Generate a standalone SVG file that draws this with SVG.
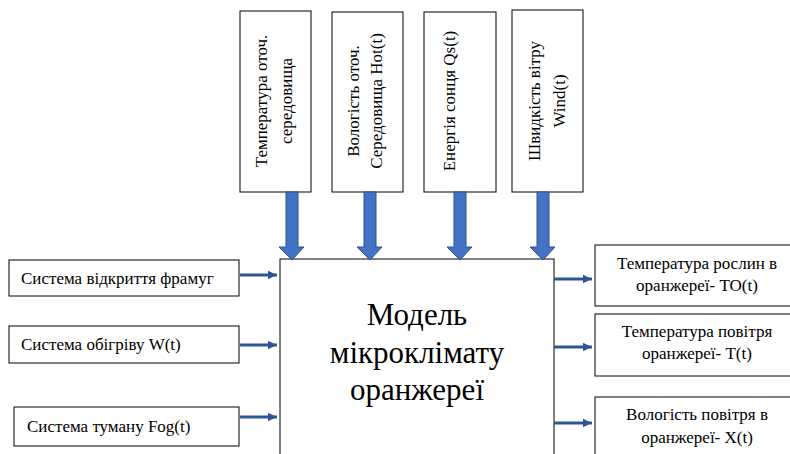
<svg xmlns="http://www.w3.org/2000/svg" width="790" height="454" viewBox="0 0 790 454">
<defs>
<style>
.box{fill:#fff;stroke:#000;stroke-width:1}
.thin{stroke:#2F5597;stroke-width:3;fill:none;marker-end:url(#ah)}
.big{fill:#4472C4;stroke:#2F528F;stroke-width:1}
</style>
<marker id="ah" markerWidth="4" markerHeight="4" refX="3" refY="2" orient="auto" markerUnits="strokeWidth">
<path d="M0,0.6 L3,2 L0,3.4 Z" fill="#2F5597"/>
</marker>
</defs>
<rect width="790" height="454" fill="#fff"/>
<g font-family="Liberation Serif, DejaVu Serif, serif" fill="#000">
<g id="top1" font-size="17" text-anchor="middle"><rect class="box" x="240" y="11" width="71" height="181"/>
<text transform="translate(267,101) rotate(-90)">Температура оточ.</text>
<text transform="translate(292,101) rotate(-90)">середовища</text></g>
<g id="top2" font-size="17" text-anchor="middle"><rect class="box" x="332" y="12" width="71" height="180"/>
<text transform="translate(359,101) rotate(-90)">Вологість оточ.</text>
<text transform="translate(382,101) rotate(-90)">Середовища Hot(t)</text></g>
<g id="top3" font-size="17" text-anchor="middle"><rect class="box" x="424" y="12" width="72" height="180"/>
<text transform="translate(455,101) rotate(-90)">Енергія сонця Qs(t)</text></g>
<g id="top4" font-size="17" text-anchor="middle"><rect class="box" x="512" y="10" width="71" height="182"/>
<text transform="translate(540,101) rotate(-90)">Швидкість вітру</text>
<text transform="translate(565,101) rotate(-90)">Wind(t)</text></g>
<g id="model" font-size="31" text-anchor="middle"><rect class="box" x="280" y="259" width="274" height="210"/>
<text x="417" y="325">Модель</text>
<text x="417" y="363">мікроклімату</text>
<text x="417" y="400">оранжереї</text></g>
<g id="in1" font-size="17"><rect class="box" x="9" y="260" width="230" height="36"/>
<text x="21" y="284">Система відкриття фрамуг</text></g>
<g id="in2" font-size="17"><rect class="box" x="9" y="326" width="230" height="37"/>
<text x="21" y="350">Система обігріву W(t)</text></g>
<g id="in3" font-size="17"><rect class="box" x="14" y="407" width="225" height="39"/>
<text x="27" y="432">Система туману Fog(t)</text></g>
<g id="out1" font-size="17" text-anchor="middle"><rect class="box" x="595" y="245" width="205" height="61"/>
<text x="697" y="269">Температура рослин в</text>
<text x="697" y="291">оранжереї- TO(t)</text></g>
<g id="out2" font-size="17" text-anchor="middle"><rect class="box" x="595" y="314" width="205" height="62"/>
<text x="697" y="337">Температура повітря</text>
<text x="697" y="359">оранжереї- T(t)</text></g>
<g id="out3" font-size="17" text-anchor="middle"><rect class="box" x="595" y="397" width="205" height="70"/>
<text x="697" y="420">Вологість повітря в</text>
<text x="697" y="443">оранжереї- X(t)</text></g>
</g>
<g id="connectors">
<path class="big" d="M286,192 H298 V247 H304 L292,260 L279,247 H286 Z"/>
<path class="big" d="M364,192 H376 V247 H382 L370,260 L357,247 H364 Z"/>
<path class="big" d="M454,192 H466 V247 H472 L460,260 L447,247 H454 Z"/>
<path class="big" d="M537,192 H549 V247 H555 L543,260 L530,247 H537 Z"/>
<line class="thin" x1="240" y1="275" x2="277" y2="275"/>
<line class="thin" x1="240" y1="345" x2="277" y2="345"/>
<line class="thin" x1="240" y1="417" x2="277" y2="417"/>
<line class="thin" x1="554" y1="279" x2="592" y2="279"/>
<line class="thin" x1="554" y1="347" x2="592" y2="347"/>
<line class="thin" x1="554" y1="423" x2="592" y2="423"/>
</g>
</svg>
